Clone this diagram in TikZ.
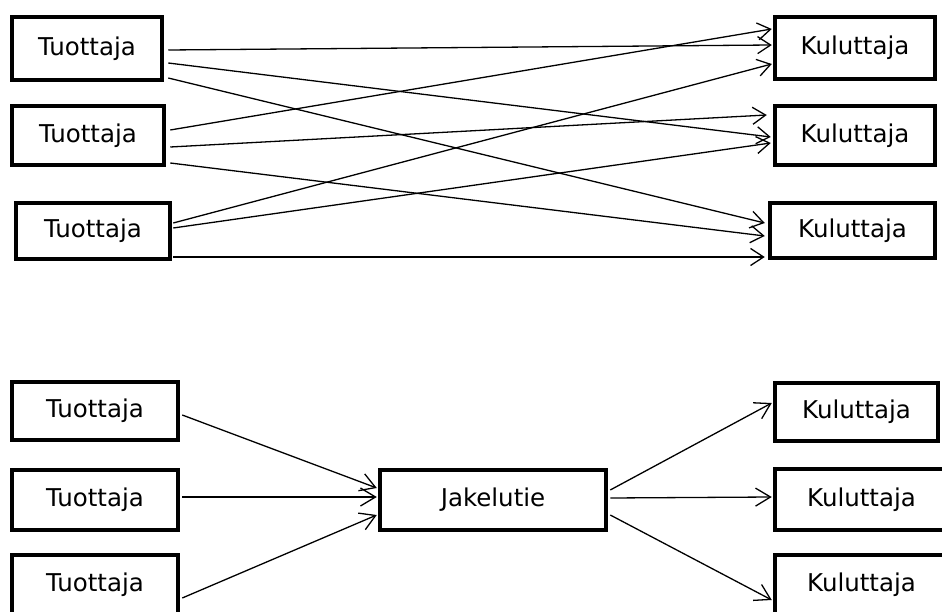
\documentclass[tikz,border=0pt]{standalone}
\usepackage{fontspec}
\setmainfont{DejaVu Sans}
\usetikzlibrary{arrows.meta}
\tikzset{
  box/.style={draw=black, line width=4.5pt, rectangle, inner sep=0pt, fill=white,
    font=\fontsize{24.5}{29}\selectfont, text=black},
  conn/.style={draw=black, line width=1.3pt, -{Straight Barb[length=13pt,width=17pt,line width=1.3pt]}},
  connb/.style={draw=black, line width=1.3pt, -{Straight Barb[length=15pt,width=18pt,line width=1.3pt]}}
}
\begin{document}
\begin{tikzpicture}[x=1pt,y=-1pt]
\clip (0,0) rectangle (942,612);
\fill[white] (0,0) rectangle (942,612);
% top section
\node[box, minimum width=150pt, minimum height=63pt] (T1) at (87,48.5) {Tuottaja};
\node[box, minimum width=152pt, minimum height=59pt] (T2) at (88,135.5) {Tuottaja};
\node[box, minimum width=154pt, minimum height=56pt] (T3) at (93,231) {Tuottaja};
\node[box, minimum width=160pt, minimum height=62pt] (K1) at (855,48) {Kuluttaja};
\node[box, minimum width=160pt, minimum height=59pt] (K2) at (855,135.5) {Kuluttaja};
\node[box, minimum width=165pt, minimum height=55pt] (K3) at (852.5,230.5) {Kuluttaja};
\draw[conn] ([shift={(4,1.5)}]T1.east) -- ([shift={(-1,-3)}]K1.west);
\draw[conn] ([shift={(4,14.5)}]T1.east) -- ([shift={(-2,1.5)}]K2.west);
\draw[conn] ([shift={(4,29.5)}]T1.east) -- ([shift={(-3,-7.5)}]K3.west);
\draw[conn] ([shift={(4,-5.5)}]T2.east) -- ([shift={(-1,-19)}]K1.west);
\draw[conn] ([shift={(4,11.5)}]T2.east) -- ([shift={(-6,-20.5)}]K2.west);
\draw[conn] ([shift={(4,27.5)}]T2.east) -- ([shift={(-3,5.5)}]K3.west);
\draw[conn] ([shift={(1,-8)}]T3.east) -- ([shift={(-1,16)}]K1.west);
\draw[conn] ([shift={(1,-3)}]T3.east) -- ([shift={(-2,7.5)}]K2.west);
\draw[conn] ([shift={(1,26)}]T3.east) -- ([shift={(-3,26.5)}]K3.west);
% bottom section
\node[box, minimum width=166pt, minimum height=58pt] (Ta) at (95,411) {Tuottaja};
\node[box, minimum width=166pt, minimum height=60pt] (Tb) at (95,500) {Tuottaja};
\node[box, minimum width=166pt, minimum height=60pt] (Tc) at (95,585) {Tuottaja};
\node[box, minimum width=226pt, minimum height=60pt] (J) at (493,500) {Jakelutie};
\node[box, minimum width=163pt, minimum height=58pt] (Ka) at (856.5,412) {Kuluttaja};
\node[box, minimum width=173pt, minimum height=61pt] (Kb) at (861.5,499.5) {Kuluttaja};
\node[box, minimum width=173pt, minimum height=60pt] (Kc) at (861.5,585) {Kuluttaja};
\draw[connb] ([shift={(2,4)}]Ta.east) -- ([shift={(-1,-12)}]J.west);
\draw[connb] ([shift={(2,-3)}]Tb.east) -- ([shift={(-1,-3)}]J.west);
\draw[connb] ([shift={(2,13)}]Tc.east) -- ([shift={(-1,15)}]J.west);
\draw[connb] ([shift={(2,-10)}]J.east) -- ([shift={(-1,-9)}]Ka.west);
\draw[connb] ([shift={(2,-2)}]J.east) -- ([shift={(-1,-2.5)}]Kb.west);
\draw[connb] ([shift={(2,15)}]J.east) -- ([shift={(-1,15)}]Kc.west);
\end{tikzpicture}
\end{document}
